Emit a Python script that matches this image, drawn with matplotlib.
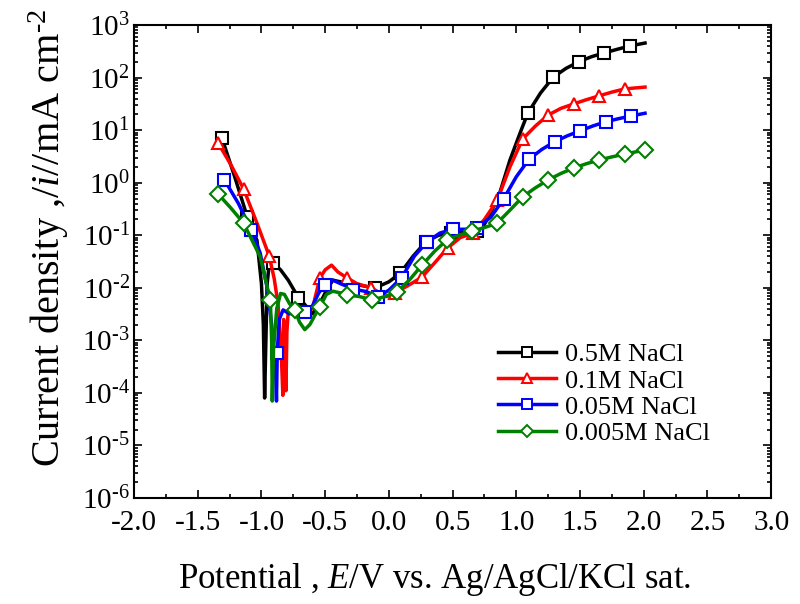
import matplotlib
matplotlib.use("Agg")
import matplotlib.pyplot as plt
import numpy as np
from matplotlib.lines import Line2D
from matplotlib.ticker import LogLocator, MultipleLocator, NullFormatter, FuncFormatter

plt.rcParams["font.family"] = ["Liberation Serif", "DejaVu Serif"]
plt.rcParams["mathtext.fontset"] = "custom"
plt.rcParams["mathtext.rm"] = "Liberation Serif"
plt.rcParams["mathtext.it"] = "Liberation Serif:italic"
plt.rcParams["axes.unicode_minus"] = False

HY = "\u2010"  # plain hyphen, so mathtext does not turn it into a long minus

# ---------------------------------------------------------------------------
# Data (E in V, i in mA cm^-2)
# ---------------------------------------------------------------------------
E_05 = [-1.31, -1.21, -1.11, -1.035, -1.0, -0.985, -0.975, -0.965, -0.955, -0.935,
        -0.91, -0.85, -0.79, -0.71, -0.66, -0.60, -0.55, -0.50, -0.44, -0.38,
        -0.31, -0.21, -0.11, 0.0, 0.09, 0.19, 0.29, 0.39, 0.49, 0.59, 0.69, 0.72,
        0.80, 0.87, 0.95, 1.03, 1.09, 1.19, 1.29, 1.39, 1.49, 1.59, 1.69, 1.79,
        1.89, 2.01]
I_05 = [7.1, 1.3, 0.22, 0.08, 0.012, 0.002, 8e-5, 1e-3, 0.012, 0.035,
        0.030, 0.022, 0.014, 0.0065, 0.0048, 0.0032, 0.0045, 0.008, 0.014, 0.013,
        0.012, 0.011, 0.0099, 0.013, 0.019, 0.04, 0.075, 0.10, 0.11, 0.115, 0.12, 0.12,
        0.27, 0.64, 2.7, 8.9, 21, 51, 102, 150, 200, 250, 295, 345,
        400, 455]
mE_05 = [-1.31, -1.11, -0.91, -0.71, -0.11, 0.09, 0.29, 0.49, 0.69, 1.09, 1.29,
         1.49, 1.69, 1.89]
mI_05 = [7.1, 0.22, 0.030, 0.0065, 0.0099, 0.019, 0.075, 0.11, 0.12, 21, 102,
         200, 295, 400]

E_01 = [-1.34, -1.24, -1.14, -1.035, -0.94, -0.90, -0.87, -0.845, -0.832, -0.826,
        -0.818, -0.808, -0.80, -0.79, -0.74, -0.66, -0.60, -0.57, -0.54, -0.50,
        -0.45, -0.40, -0.33, -0.25, -0.14, -0.07, -0.015, 0.05, 0.15, 0.26, 0.36,
        0.46, 0.56, 0.66, 0.75, 0.85, 0.95, 1.05, 1.15, 1.25, 1.35, 1.45, 1.55,
        1.65, 1.75, 1.85, 2.01]
I_01 = [5.7, 2.2, 0.76, 0.17, 0.041, 0.015, 0.005, 6e-4, 9e-5, 2.5e-3,
        1.5e-3, 1.1e-4, 1.5e-3, 0.0035, 0.003, 0.0035, 0.004, 0.008, 0.0155, 0.022,
        0.027, 0.02, 0.0155, 0.012, 0.01, 0.008, 0.0068, 0.0081, 0.011, 0.016, 0.03,
        0.057, 0.09, 0.11, 0.2, 0.46, 2.0, 6.8, 12, 19.4, 26, 31.6, 38,
        45, 53, 61, 66]
mE_01 = [-1.34, -1.14, -0.94, -0.54, -0.33, -0.14, 0.05, 0.26, 0.46, 0.66, 0.85,
         1.05, 1.25, 1.45, 1.65, 1.85]
mI_01 = [5.7, 0.76, 0.041, 0.0155, 0.0155, 0.01, 0.0081, 0.016, 0.057, 0.11, 0.46,
         6.8, 19.4, 31.6, 45, 61]

E_005 = [-1.29, -1.18, -1.08, -1.01, -0.955, -0.92, -0.89, -0.882, -0.876, -0.86,
         -0.83, -0.78, -0.72, -0.66, -0.60, -0.55, -0.50, -0.44, -0.38, -0.28,
         -0.18, -0.085, 0.0, 0.10, 0.20, 0.30, 0.40, 0.50, 0.60, 0.69, 0.80, 0.90,
         1.0, 1.10, 1.20, 1.30, 1.40, 1.50, 1.60, 1.70, 1.80, 1.90, 2.01]
I_005 = [1.13, 0.4, 0.127, 0.046, 0.010, 0.002, 3e-4, 7e-5, 6e-4, 0.0025,
         0.0038, 0.0032, 0.0035, 0.0034, 0.0045, 0.008, 0.0114, 0.014, 0.012, 0.0095,
         0.0085, 0.0068, 0.009, 0.0155, 0.04, 0.075, 0.11, 0.13, 0.13, 0.14, 0.22, 0.49,
         1.3, 2.8, 4.3, 6.0, 7.8, 9.7, 12, 14.4, 16.5, 18.6, 21]
mE_005 = [-1.29, -1.08, -0.877, -0.66, -0.50, -0.28, -0.085, 0.10, 0.30, 0.50, 0.69,
          0.90, 1.10, 1.30, 1.50, 1.70, 1.90]
mI_005 = [1.13, 0.127, 5.8e-4, 0.0034, 0.0114, 0.0092, 0.0068, 0.0155, 0.075, 0.13, 0.14,
          0.49, 2.8, 6.0, 9.7, 14.4, 18.6]

E_0005 = [-1.34, -1.24, -1.14, -1.01, -0.956, -0.93, -0.92, -0.915, -0.905, -0.88,
          -0.85, -0.82, -0.78, -0.74, -0.70, -0.66, -0.62, -0.58, -0.54, -0.49,
          -0.44, -0.38, -0.33, -0.23, -0.13, -0.03, 0.065, 0.16, 0.26, 0.36, 0.457,
          0.55, 0.653, 0.75, 0.85, 0.95, 1.05, 1.15, 1.25, 1.35, 1.45, 1.55, 1.65,
          1.75, 1.85, 2.01]
I_0005 = [0.61, 0.33, 0.17, 0.039, 0.0107, 0.0059, 0.001, 7e-5, 7e-4, 0.004,
          0.0078, 0.0075, 0.005, 0.0038, 0.0022, 0.0016, 0.002, 0.003, 0.0044, 0.0075,
          0.0086, 0.008, 0.0074, 0.0068, 0.0059, 0.0068, 0.0084, 0.014, 0.027, 0.05, 0.082,
          0.10, 0.12, 0.14, 0.17, 0.3, 0.54, 0.8, 1.13, 1.5, 1.9, 2.3, 2.7,
          3.1, 3.5, 4.2]
mE_0005 = [-1.34, -1.14, -0.93, -0.74, -0.54, -0.33, -0.13, 0.065, 0.26, 0.457, 0.653,
           0.85, 1.05, 1.25, 1.45, 1.65, 1.85, 2.01]
mI_0005 = [0.61, 0.17, 0.0059, 0.0038, 0.0044, 0.0074, 0.0059, 0.0084, 0.027, 0.082, 0.12,
           0.17, 0.54, 1.13, 1.9, 2.7, 3.5, 4.2]

SERIES = [
    ("0.5M NaCl", E_05, I_05, mE_05, mI_05, "black", "s"),
    ("0.1M NaCl", E_01, I_01, mE_01, mI_01, "#ff0000", "^"),
    ("0.05M NaCl", E_005, I_005, mE_005, mI_005, "#0000ff", "s"),
    ("0.005M NaCl", E_0005, I_0005, mE_0005, mI_0005, "#008000", "D"),
]


def _xfmt(v, pos):
    if abs(v) < 1e-9:
        v = 0.0
    return f"{v:.1f}"


def _yfmt(v, pos):
    exp = int(round(np.log10(v)))
    s = str(exp).replace("-", HY)
    return f"10$^{{{s}}}$"


def main() -> None:
    fig = plt.figure(figsize=(8.0, 6.04), dpi=100)
    ax = fig.add_axes([0.1675, 0.1755, 0.7965, 0.783])

    handles = []
    for label, e, i, me, mi, color, marker in SERIES:
        ax.plot(e, i, color=color, lw=2.5, solid_joinstyle="round")
        ms = 8.0 if marker == "D" else 9.0
        ax.plot(me, mi, ls="none", marker=marker, ms=ms, mfc="white",
                mec=color, mew=1.5)
        handles.append(Line2D([], [], color=color, lw=2.5, marker=marker,
                              ms=ms * 0.8, mfc="white", mec=color, mew=1.4,
                              label=label))

    ax.set_yscale("log")
    ax.set_xlim(-2.0, 3.0)
    ax.set_ylim(1e-6, 1e3)
    ax.xaxis.set_major_locator(MultipleLocator(0.5))
    ax.xaxis.set_minor_locator(MultipleLocator(0.25))
    ax.xaxis.set_major_formatter(FuncFormatter(_xfmt))
    ax.yaxis.set_major_locator(LogLocator(base=10, numticks=20))
    ax.yaxis.set_minor_locator(LogLocator(base=10, subs=range(2, 10), numticks=20))
    ax.yaxis.set_minor_formatter(NullFormatter())
    ax.yaxis.set_major_formatter(FuncFormatter(_yfmt))

    ax.tick_params(which="both", direction="in", top=True, right=True, width=1.2)
    ax.tick_params(which="major", length=6)
    ax.tick_params(which="minor", length=3)
    ax.tick_params(axis="x", labelsize=21, pad=9)
    ax.tick_params(axis="y", labelsize=21, pad=3)
    for sp in ax.spines.values():
        sp.set_linewidth(1.5)

    ax.set_xlabel("Potential , $E$/V vs. Ag/AgCl/KCl sat.", fontsize=25, labelpad=18)
    ax.xaxis.label.set_x(0.471)
    ax.set_ylabel(f"Current density ,/$i$//mA cm$^{{{HY}2}}$", fontsize=29, labelpad=8)
    ax.yaxis.label.set_y(0.55)

    ax.legend(handles=handles, loc="upper left", bbox_to_anchor=(0.555, 0.35),
              frameon=False, fontsize=19, handlelength=2.2, handletextpad=0.35,
              labelspacing=0.1, borderaxespad=0)

    fig.savefig("out.png", dpi=100)
    plt.close(fig)


if __name__ == "__main__":
    main()
